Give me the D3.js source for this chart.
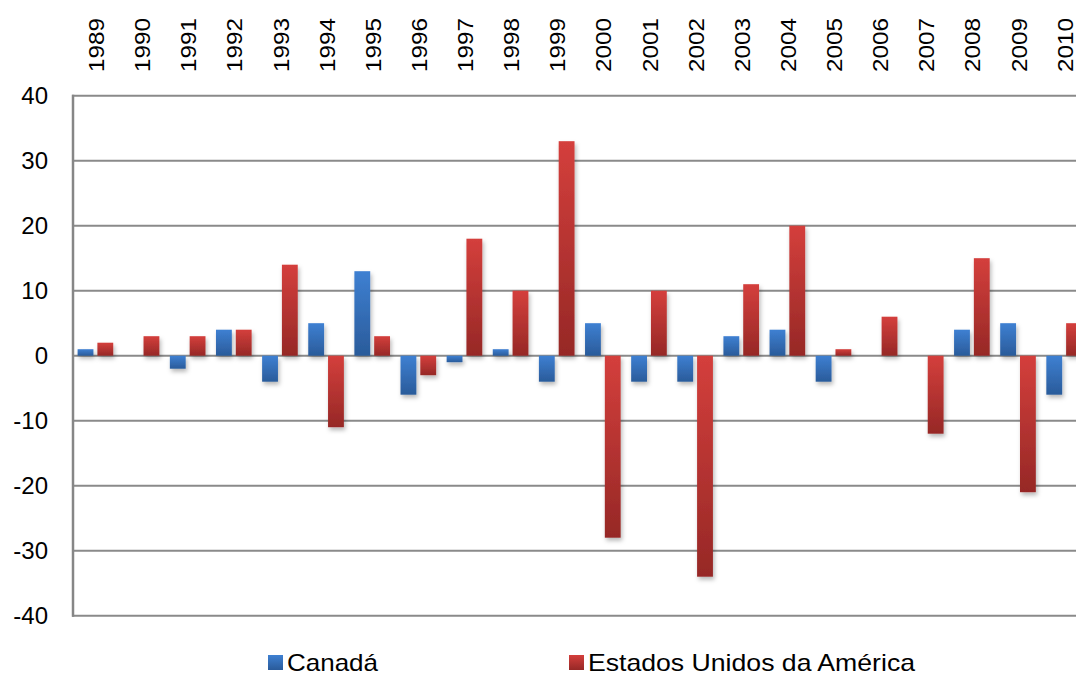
<!DOCTYPE html>
<html>
<head>
<meta charset="utf-8">
<script src="https://cdn.jsdelivr.net/npm/d3@7"></script>
<style>
  body { margin: 0; background: #fff; overflow: hidden; }
  svg { display: block; font-family: "Liberation Sans", Arial, sans-serif; }
</style>
</head>
<body>
<svg class="chart"></svg>
<script>
// data
const years = ['1989', '1990', '1991', '1992', '1993', '1994', '1995', '1996', '1997', '1998', '1999',
  '2000', '2001', '2002', '2003', '2004', '2005', '2006', '2007', '2008', '2009', '2010'];
const canada = [1, 0, -2, 4, -4, 5, 13, -6, -1, 1, -4, 5, -4, -4, 3, 4, -4, 0, 0, 4, 5, -6];
const eua = [2, 3, 3, 4, 14, -11, 3, -3, 18, 10, 33, -28, 10, -34, 11, 20, 1, 6, -12, 15, -21, 5];
const seriesNames = ['Canadá', 'Estados Unidos da América'];
const yTicks = [40, 30, 20, 10, 0, -10, -20, -30, -40];

const svgWidth = 1076;
const svgHeight = 674;
const plotLeft = 72;
const step = 46.13;
const plotRight = plotLeft + step * years.length; // runs past the window, like the original
const plotTop = 95.7;
const plotBottom = 615.7;

const svg = d3.select('.chart')
  .attr('width', svgWidth)
  .attr('height', svgHeight);

const defs = svg.append('defs');
const grads = [
  { id: 'gBlue', c1: '#3e80d2', c2: '#2a5b9a' },
  { id: 'gRed', c1: '#d43f3c', c2: '#962826' }
];
grads.forEach(g => {
  const lg = defs.append('linearGradient')
    .attr('id', g.id)
    .attr('x1', 0).attr('y1', 0).attr('x2', 0).attr('y2', 1);
  lg.append('stop').attr('offset', '0%').attr('stop-color', g.c1);
  lg.append('stop').attr('offset', '100%').attr('stop-color', g.c2);
});
defs.append('filter')
  .attr('id', 'shadow')
  .attr('x', '-30%').attr('y', '-30%').attr('width', '160%').attr('height', '160%')
  .append('feDropShadow')
  .attr('dx', 1.5).attr('dy', 3).attr('stdDeviation', 2)
  .attr('flood-color', '#000').attr('flood-opacity', 0.28);

// scales
const x0 = d3.scaleBand()
  .domain(years)
  .range([plotLeft, plotRight])
  .padding(0);

const x1 = d3.scaleBand()
  .domain([0, 1])
  .range([5.6, step - 4.9])
  .paddingInner(0.2);

const y = d3.scaleLinear()
  .domain([-40, 40])
  .range([plotBottom, plotTop]);

// gridlines
svg.append('g')
  .selectAll('line')
  .data(yTicks)
  .enter()
  .append('line')
  .attr('x1', plotLeft)
  .attr('x2', svgWidth)
  .attr('y1', d => y(d))
  .attr('y2', d => y(d))
  .attr('stroke', '#8a8a8a')
  .attr('stroke-width', 2);

// left axis line
svg.append('line')
  .attr('x1', plotLeft + 1).attr('x2', plotLeft + 1)
  .attr('y1', plotTop - 1).attr('y2', plotBottom + 1)
  .attr('stroke', '#868686')
  .attr('stroke-width', 2.5);

// y labels (plain hyphen for negatives, as in the original)
const yAxis = svg.append('g')
  .attr('transform', 'translate(' + plotLeft + ',0)')
  .call(d3.axisLeft(y).tickValues(yTicks).tickSize(0).tickPadding(24).tickFormat(d => String(d)));
yAxis.select('.domain').remove();
yAxis.selectAll('text')
  .attr('font-family', '"Liberation Sans", Arial, sans-serif')
  .attr('font-size', '24px')
  .attr('fill', '#000');

// year labels along the top, rotated, reading upwards
svg.append('g')
  .selectAll('text')
  .data(years)
  .enter()
  .append('text')
  .attr('transform', d => 'translate(' + (x0(d) + step / 2 + 1) + ',72) rotate(-90)')
  .attr('text-anchor', 'start')
  .attr('dy', '0.36em')
  .attr('font-size', '22px')
  .attr('textLength', 54)
  .attr('lengthAdjust', 'spacingAndGlyphs')
  .attr('fill', '#000')
  .text(d => d);

// bars
const seriesValues = [canada, eua];
const fills = ['url(#gBlue)', 'url(#gRed)'];
seriesValues.forEach((vals, s) => {
  svg.append('g')
    .attr('filter', 'url(#shadow)')
    .selectAll('rect')
    .data(vals)
    .enter()
    .append('rect')
    .attr('x', (d, i) => x0(years[i]) + x1(s))
    .attr('width', x1.bandwidth())
    .attr('y', d => y(Math.max(0, d)))
    .attr('height', d => Math.abs(y(d) - y(0)))
    .attr('fill', fills[s]);
});

// legend
const legendX = [268, 569];
const legendLen = [91, 327];
const legend = svg.append('g')
  .selectAll('g')
  .data(seriesNames)
  .enter()
  .append('g')
  .attr('transform', (d, i) => 'translate(' + legendX[i] + ',655)');
legend.append('rect')
  .attr('width', 15)
  .attr('height', 15)
  .attr('fill', (d, i) => fills[i]);
legend.append('text')
  .attr('x', 19)
  .attr('y', 16)
  .attr('font-size', '24px')
  .attr('textLength', (d, i) => legendLen[i])
  .attr('lengthAdjust', 'spacingAndGlyphs')
  .attr('fill', '#000')
  .text(d => d);
</script>
</body>
</html>
